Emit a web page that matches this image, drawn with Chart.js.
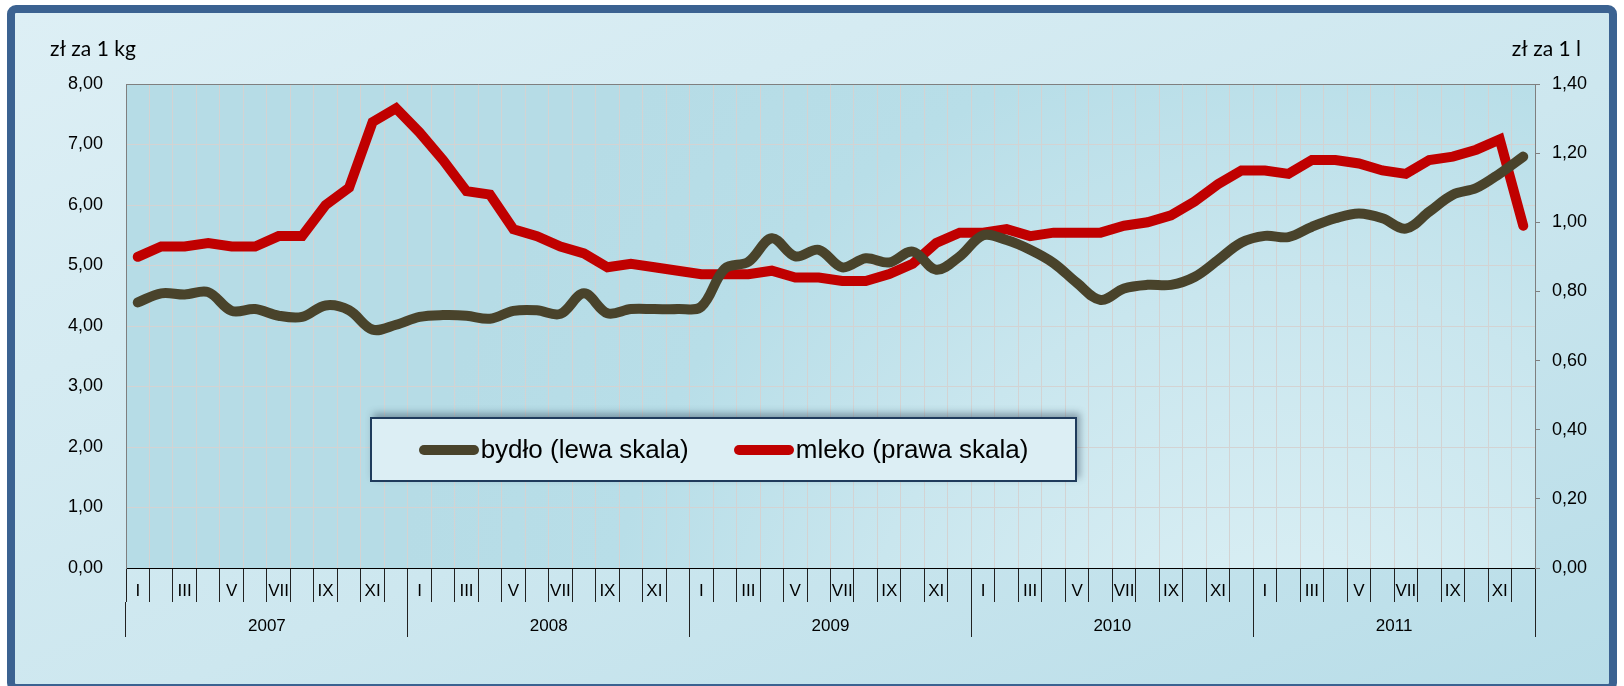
<!DOCTYPE html>
<html lang="pl">
<head>
<meta charset="utf-8">
<title>Ceny bydła i mleka 2007-2011</title>
<script src="https://cdn.jsdelivr.net/npm/chart.js@4.4.1/dist/chart.umd.min.js"></script>
<style>
  html, body { margin: 0; padding: 0; background: #ffffff; overflow: hidden; }
  #frame {
    position: absolute; left: 7px; top: 5px; width: 1610px; height: 687px;
    box-sizing: border-box; border: 8px solid #3b6291; border-radius: 9px;
    background: linear-gradient(to bottom right, #ddeff5 0%, #cde7ef 55%, #b8dde8 100%);
  }
  #chart { position: absolute; left: 0; top: 0; }
  #legend {
    position: absolute; left: 370px; top: 417px; width: 707px; height: 65px;
    box-sizing: border-box; border: 2px solid #1f3b5c; background: #dceef4;
    box-shadow: 3px -4px 7px rgba(50, 70, 90, 0.45);
    display: flex; align-items: center; justify-content: center; gap: 45px;
    font: 26px "Liberation Sans", Arial, sans-serif; color: #000;
  }
  #legend .item { display: flex; align-items: center; gap: 2px; white-space: nowrap; }
  #legend .swatch { width: 60px; height: 10px; border-radius: 5px; }
</style>
</head>
<body>
<div id="frame"></div>
<canvas id="chart" width="1624" height="686"></canvas>
<div id="legend"></div>
<script>
// --- dane ---
const years = ["2007", "2008", "2009", "2010", "2011"];
const monthMarks = ["I", "", "III", "", "V", "", "VII", "", "IX", "", "XI", ""];

// bydło, zł za 1 kg (lewa skala)
const cattle = [
  4.39, 4.54, 4.52, 4.56, 4.25, 4.28, 4.17, 4.15, 4.34, 4.26, 3.94, 4.02,
  4.15, 4.18, 4.17, 4.12, 4.25, 4.26, 4.20, 4.54, 4.21, 4.28, 4.28, 4.28,
  4.32, 4.95, 5.06, 5.45, 5.15, 5.26, 4.97, 5.12, 5.05, 5.23, 4.93, 5.15,
  5.50, 5.42, 5.26, 5.04, 4.71, 4.43, 4.62, 4.68, 4.68, 4.81, 5.09, 5.38,
  5.49, 5.47, 5.64, 5.78, 5.86, 5.78, 5.61, 5.89, 6.17, 6.28, 6.52, 6.80,
];

// mleko, zł za 1 l (prawa skala)
const milk = [
  0.90, 0.93, 0.93, 0.94, 0.93, 0.93, 0.96, 0.96, 1.05, 1.10, 1.29, 1.33,
  1.26, 1.18, 1.09, 1.08, 0.98, 0.96, 0.93, 0.91, 0.87, 0.88, 0.87, 0.86,
  0.85, 0.85, 0.85, 0.86, 0.84, 0.84, 0.83, 0.83, 0.85, 0.88, 0.94, 0.97,
  0.97, 0.98, 0.96, 0.97, 0.97, 0.97, 0.99, 1.00, 1.02, 1.06, 1.11, 1.15,
  1.15, 1.14, 1.18, 1.18, 1.17, 1.15, 1.14, 1.18, 1.19, 1.21, 1.24, 0.99,
];

const leftTicks = ["0,00", "1,00", "2,00", "3,00", "4,00", "5,00", "6,00", "7,00", "8,00"];
const rightTicks = ["0,00", "0,20", "0,40", "0,60", "0,80", "1,00", "1,20", "1,40"];
const leftUnit = "zł za 1 kg";
const rightUnit = "zł za 1 l";

// etykiety miesięcy dla wszystkich lat
const monthLabels = years.flatMap(() => monthMarks);

const FONT = "'Liberation Sans', Arial, sans-serif";
const GRID = "#d3d3d3";

// tło obszaru wykresu
const plotBackground = {
  id: "plotBackground",
  beforeDraw(chart) {
    const { ctx, chartArea: a } = chart;
    const g = ctx.createRadialGradient(a.right - 250, a.bottom + 150, 50, a.right - 250, a.bottom + 150, 900);
    g.addColorStop(0, "#dcf0f5");
    g.addColorStop(0.45, "#c9e6ee");
    g.addColorStop(0.75, "#b8dee8");
    g.addColorStop(1, "#b6dce6");
    ctx.save();
    ctx.fillStyle = g;
    ctx.fillRect(a.left, a.top, a.right - a.left, a.bottom - a.top);
    ctx.restore();
  },
  beforeDatasetsDraw(chart) {
    const { ctx, chartArea: a } = chart;
    ctx.save();
    ctx.strokeStyle = "#7f7f7f";
    ctx.lineWidth = 1;
    ctx.beginPath();
    ctx.moveTo(a.left, a.top + 0.5);
    ctx.lineTo(a.right, a.top + 0.5);
    ctx.stroke();
    ctx.restore();
  },
};

// jednostki nad osiami
const unitTitles = {
  id: "unitTitles",
  afterDraw(chart) {
    const { ctx } = chart;
    ctx.save();
    ctx.fillStyle = "#000";
    ctx.font = "21px Lato, 'Liberation Sans', sans-serif";
    ctx.textBaseline = "alphabetic";
    ctx.textAlign = "left";
    ctx.fillText(leftUnit, 50, 56);
    ctx.textAlign = "right";
    ctx.fillText(rightUnit, 1581, 56);
    ctx.restore();
  },
};

const chart = new Chart(document.getElementById("chart"), {
  type: "line",
  data: {
    labels: monthLabels,
    datasets: [
      {
        label: "bydło (lewa skala)",
        data: cattle,
        yAxisID: "y",
        xAxisID: "x",
        borderColor: "#49432b",
        backgroundColor: "#49432b",
        borderWidth: 10,
        tension: 0.35,
        pointRadius: 0,
        borderCapStyle: "round",
        borderJoinStyle: "round",
      },
      {
        label: "mleko (prawa skala)",
        data: milk,
        yAxisID: "y1",
        xAxisID: "x",
        borderColor: "#c00000",
        backgroundColor: "#c00000",
        borderWidth: 10,
        tension: 0,
        pointRadius: 0,
        borderCapStyle: "round",
        borderJoinStyle: "miter",
      },
    ],
  },
  options: {
    responsive: false,
    animation: false,
    devicePixelRatio: 1,
    layout: { padding: { left: 0, right: 0, top: 84, bottom: 0 } },
    plugins: { legend: { display: false }, tooltip: { enabled: false } },
    scales: {
      x: {
        type: "category",
        position: "bottom",
        offset: true,
        weight: 0,
        grid: { offset: true, color: GRID, lineWidth: 1, tickLength: 34, tickColor: "#222", tickWidth: 1 },
        border: { color: "#000", width: 1 },
        ticks: { autoSkip: false, maxRotation: 0, minRotation: 0, padding: -20.5, color: "#000", font: { family: FONT, size: 17 } },
        afterFit: (s) => { s.height = 34; },
      },
      x2: {
        type: "category",
        labels: years,
        position: "bottom",
        offset: true,
        weight: 1,
        grid: { offset: true, drawOnChartArea: false, tickLength: 35, tickColor: "#222", tickWidth: 1 },
        border: { display: false },
        ticks: { autoSkip: false, maxRotation: 0, padding: -20.6, color: "#000", font: { family: FONT, size: 17 } },
        afterFit: (s) => { s.height = 84; },
      },
      y: {
        position: "left",
        min: 0,
        max: 8,
        grid: { color: GRID, lineWidth: 1, drawTicks: false },
        border: { color: "#7f7f7f", width: 1 },
        ticks: { stepSize: 1, padding: 23, color: "#000", font: { family: FONT, size: 18 }, callback: (v, i) => leftTicks[i] },
        afterFit: (s) => { s.width = 126; },
      },
      y1: {
        position: "right",
        min: 0,
        max: 1.4,
        grid: { drawOnChartArea: false, tickLength: 5, tickColor: "#7f7f7f" },
        border: { color: "#7f7f7f", width: 1 },
        ticks: { stepSize: 0.2, padding: 12, color: "#000", font: { family: FONT, size: 18 }, callback: (v, i) => rightTicks[i] },
        afterFit: (s) => { s.width = 89; },
      },
    },
  },
  plugins: [plotBackground, unitTitles],
});

// legenda w ramce
const legendBox = document.getElementById("legend");
chart.data.datasets.forEach((ds) => {
  const item = document.createElement("div");
  item.className = "item";
  const sw = document.createElement("span");
  sw.className = "swatch";
  sw.style.background = ds.borderColor;
  const txt = document.createElement("span");
  txt.textContent = ds.label;
  item.append(sw, txt);
  legendBox.append(item);
});
</script>
</body>
</html>
